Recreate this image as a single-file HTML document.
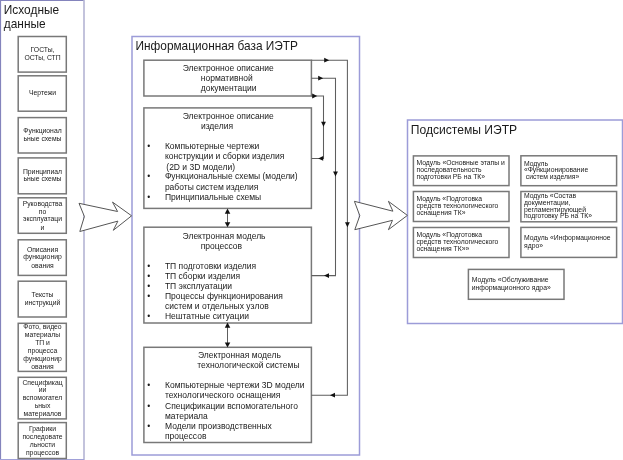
<!DOCTYPE html>
<html><head><meta charset="utf-8">
<style>
html,body{margin:0;padding:0;background:#fff;width:623px;height:460px;overflow:hidden}
svg{display:block;filter:blur(0.3px)}
text{font-family:"Liberation Sans",sans-serif;fill:#1a1a1a}
.ob{fill:none;stroke:#9c9cd8;stroke-width:1.5}
.ib{fill:none;stroke:#787878;stroke-width:1.5}
.ln{fill:none;stroke:#5e5e5e;stroke-width:1.05}
.ah{fill:#111;stroke:none}
.big{fill:#fff;stroke:#555;stroke-width:1;stroke-linejoin:miter}
.t1{font-size:11.7px}
.t2{font-size:8.5px}
.t3{font-size:6.8px}
.c{text-anchor:middle}
</style></head>
<body>
<svg width="623" height="460" viewBox="0 0 623 460">
<!-- outer boxes -->
<line x1="0.5" y1="0" x2="0.5" y2="460" stroke="#8484bc" stroke-width="1.2"/>
<line x1="0" y1="0.5" x2="84" y2="0.5" stroke="#8484bc" stroke-width="1.2"/>
<line x1="84" y1="0" x2="84" y2="460" stroke="#b4b4d4" stroke-width="1.6"/>
<line x1="0" y1="459.5" x2="84" y2="459.5" stroke="#a0a0d8" stroke-width="1.2"/>
<rect class="ob" x="132" y="36.5" width="227.5" height="418.5"/>
<rect class="ob" x="407.5" y="120" width="215" height="203.5"/>

<!-- titles -->
<text class="t1" x="3.8" y="14" style="font-size:11.9px">Исходные</text>
<text class="t1" x="3.8" y="28.4" style="font-size:11.9px">данные</text>
<text class="t1" x="135.5" y="50" style="font-size:11.85px">Информационная база ИЭТР</text>
<text class="t1" x="410.8" y="134" style="font-size:12.1px">Подсистемы ИЭТР</text>

<!-- left column boxes -->
<g class="t3">
<rect class="ib" x="18.2" y="36.5" width="48.1" height="35.6"/>
<text class="c" x="42.5" y="51.5">ГОСТы,</text>
<text class="c" x="42.5" y="59.7">ОСТы, СТП</text>

<rect class="ib" x="18.2" y="75.8" width="48.1" height="35.4"/>
<text class="c" x="42.5" y="95.1">Чертежи</text>

<rect class="ib" x="18.2" y="117.6" width="48.1" height="35.4"/>
<text class="c" x="42.5" y="132.5">Функционал</text>
<text class="c" x="42.5" y="141.3">ьные схемы</text>

<rect class="ib" x="18.2" y="157.9" width="48.1" height="35.9"/>
<text class="c" x="42.5" y="173.5">Принципиал</text>
<text class="c" x="42.5" y="181.4">ьные схемы</text>

<rect class="ib" x="18.2" y="197.8" width="48.1" height="35.5"/>
<text class="c" x="42.5" y="205.6">Руководства</text>
<text class="c" x="42.5" y="213.7">по</text>
<text class="c" x="42.5" y="221.3">эксплуатаци</text>
<text class="c" x="42.5" y="229.6">и</text>

<rect class="ib" x="18.2" y="239.8" width="48.1" height="35.6"/>
<text class="c" x="42.5" y="251.7">Описания</text>
<text class="c" x="42.5" y="259.4">функционир</text>
<text class="c" x="42.5" y="267.6">ования</text>

<rect class="ib" x="18.2" y="281.2" width="48.1" height="35.8"/>
<text class="c" x="42.5" y="297.4">Тексты</text>
<text class="c" x="42.5" y="305.2">инструкций</text>

<rect class="ib" x="18.2" y="323.3" width="48.1" height="48.1"/>
<text class="c" x="42.5" y="328.8">Фото, видео</text>
<text class="c" x="42.5" y="336.8">материалы</text>
<text class="c" x="42.5" y="344.8">ТП и</text>
<text class="c" x="42.5" y="352.8">процесса</text>
<text class="c" x="42.5" y="360.8">функционир</text>
<text class="c" x="42.5" y="369.2">ования</text>

<rect class="ib" x="18.2" y="377.3" width="48.1" height="41.6"/>
<text class="c" x="42.5" y="384.5">Спецификац</text>
<text class="c" x="42.5" y="392.3">ии</text>
<text class="c" x="42.5" y="400.2">вспомогател</text>
<text class="c" x="42.5" y="408.0">ьных</text>
<text class="c" x="42.5" y="415.9">материалов</text>

<rect class="ib" x="18.2" y="422.6" width="48.1" height="35.9"/>
<text class="c" x="42.5" y="431.0">Графики</text>
<text class="c" x="42.5" y="438.9">последовате</text>
<text class="c" x="42.5" y="446.8">льности</text>
<text class="c" x="42.5" y="454.7">процессов</text>
</g>

<!-- big arrows -->
<path class="big" d="M79,203.3 L84.4,216.5 L79.8,231.5 L117.9,221.1 L113.3,230.3 L131.6,215.8 L112.5,202.1 L117.6,211.5 Z"/>
<path class="big" d="M354.4,201.3 L359.8,215.7 L354.8,229.7 L392.5,220.3 L388.4,229.7 L407.4,215.4 L388.4,201.3 L392.9,211.2 Z"/>

<!-- middle boxes -->
<g class="t2">
<rect class="ib" x="143.9" y="60.2" width="167.5" height="35.8"/>
<text x="182.7" y="71.1">Электронное описание</text>
<text x="200.8" y="81">нормативной</text>
<text x="200.8" y="90.8">документации</text>

<rect class="ib" x="143.9" y="107.9" width="167.5" height="100.5"/>
<text x="182.7" y="119.4">Электронное описание</text>
<text x="200.9" y="128.9">изделия</text>
<text x="147.2" y="149.2">•</text><text x="164.9" y="149.2">Компьютерные чертежи</text>
<text x="164.9" y="159.2">конструкции и сборки изделия</text>
<text x="166.3" y="170.1">(2D и 3D модели)</text>
<text x="147.2" y="178.9">•</text><text x="164.9" y="178.9">Функциональные схемы (модели)</text>
<text x="164.9" y="189.8">работы систем изделия</text>
<text x="147.2" y="199.8">•</text><text x="164.9" y="199.8">Принципиальные схемы</text>

<rect class="ib" x="143.9" y="227.2" width="167.5" height="95.8"/>
<text x="182.6" y="239.0">Электронная модель</text>
<text x="200.7" y="249.0">процессов</text>
<text x="147.2" y="269.3">•</text><text x="164.9" y="269.3">ТП подготовки изделия</text>
<text x="147.2" y="279.3">•</text><text x="164.9" y="279.3">ТП сборки изделия</text>
<text x="147.2" y="289.3">•</text><text x="164.9" y="289.3">ТП эксплуатации</text>
<text x="147.2" y="299.3">•</text><text x="164.9" y="299.3">Процессы функционирования</text>
<text x="164.9" y="309.3">систем и отдельных узлов</text>
<text x="147.2" y="319.3">•</text><text x="164.9" y="319.3">Нештатные ситуации</text>

<rect class="ib" x="143.9" y="347.3" width="167.5" height="95.2"/>
<text x="197.9" y="358.1">Электронная модель</text>
<text x="197.3" y="367.9">технологической системы</text>
<text x="147.2" y="387.7">•</text><text x="165" y="387.7">Компьютерные чертежи 3D модели</text>
<text x="165" y="397.8">технологического оснащения</text>
<text x="147.2" y="409">•</text><text x="165" y="409">Спецификации вспомогательного</text>
<text x="165" y="419.1">материала</text>
<text x="147.2" y="429.2">•</text><text x="165" y="429.2">Модели производственных</text>
<text x="165" y="439.3">процессов</text>
</g>

<!-- double arrows between boxes -->
<line class="ln" x1="227.5" y1="212" x2="227.5" y2="224"/>
<path class="ah" d="M227.5,208.5 L224.8,213.8 L230.3,213.8 Z"/>
<path class="ah" d="M227.5,227.3 L224.8,222.3 L230.3,222.3 Z"/>
<line class="ln" x1="227.5" y1="326" x2="227.5" y2="344"/>
<path class="ah" d="M227.5,322.5 L224.8,327.8 L230.3,327.8 Z"/>
<path class="ah" d="M227.5,347.4 L224.8,342.4 L230.3,342.4 Z"/>

<!-- connectors -->
<polyline class="ln" points="311.45,60.2 347.4,60.2 347.4,395.2 311.45,395.2"/>
<polyline class="ln" points="311.45,78.2 335.5,78.2 335.5,275.6 311.45,275.6"/>
<polyline class="ln" points="311.45,96 323.5,96 323.5,158.4 311.45,158.4"/>
<!-- arrowheads right -->
<path class="ah" d="M329.2,60.2 L324.2,57.8 L324.2,62.6 Z"/>
<path class="ah" d="M323.2,78.2 L318.2,75.8 L318.2,80.6 Z"/>
<path class="ah" d="M317.2,96 L312.2,93.6 L312.2,98.4 Z"/>
<!-- arrowheads down -->
<path class="ah" d="M323.5,126.8 L321.1,121.8 L325.9,121.8 Z"/>
<path class="ah" d="M335.5,176.6 L333.1,171.6 L337.9,171.6 Z"/>
<path class="ah" d="M347.4,227.3 L345,222.3 L349.8,222.3 Z"/>
<!-- arrowheads left -->
<path class="ah" d="M318.2,158.4 L323.2,156 L323.2,160.8 Z"/>
<path class="ah" d="M324,275.6 L329,273.2 L329,278 Z"/>
<path class="ah" d="M330,395.2 L335,392.8 L335,397.6 Z"/>

<!-- modules -->
<g class="t3">
<rect class="ib" x="413.4" y="155.9" width="95.6" height="29.7"/>
<text x="416.5" y="165">Модуль «Основные этапы и</text>
<text x="416.5" y="172">последовательность</text>
<text x="416.5" y="179">подготовки РБ на ТК»</text>

<rect class="ib" x="520.9" y="155.8" width="95.7" height="29.9"/>
<text x="523.9" y="165.5">Модуль</text>
<text x="523.9" y="172.4">«Функционирование</text>
<text x="525.8" y="179">систем изделия»</text>

<rect class="ib" x="413.4" y="191.5" width="95.6" height="30.0"/>
<text x="416.4" y="201">Модуль «Подготовка</text>
<text x="416.4" y="207.5">средств технологического</text>
<text x="416.4" y="215">оснащения ТК»</text>

<rect class="ib" x="520.9" y="191.5" width="95.7" height="30.3"/>
<text x="523.9" y="198">Модуль «Состав</text>
<text x="523.9" y="205">документации,</text>
<text x="523.9" y="212">регламентирующей</text>
<text x="523.9" y="218.3">подготовку РБ на ТК»</text>

<rect class="ib" x="413.4" y="227.5" width="95.6" height="30.0"/>
<text x="416.4" y="237">Модуль «Подготовка</text>
<text x="416.4" y="243.8">средств технологического</text>
<text x="416.4" y="251.2">оснащения ТК»»</text>

<rect class="ib" x="520.9" y="227.4" width="95.7" height="30.0"/>
<text x="524.1" y="240.4">Модуль «Информационное</text>
<text x="524.1" y="247.8">ядро»</text>

<rect class="ib" x="468.4" y="269.4" width="95.6" height="29.9"/>
<text x="471.8" y="282.3">Модуль «Обслуживание</text>
<text x="471.8" y="289.8">информационного ядра»</text>
</g>
</svg>
</body></html>
